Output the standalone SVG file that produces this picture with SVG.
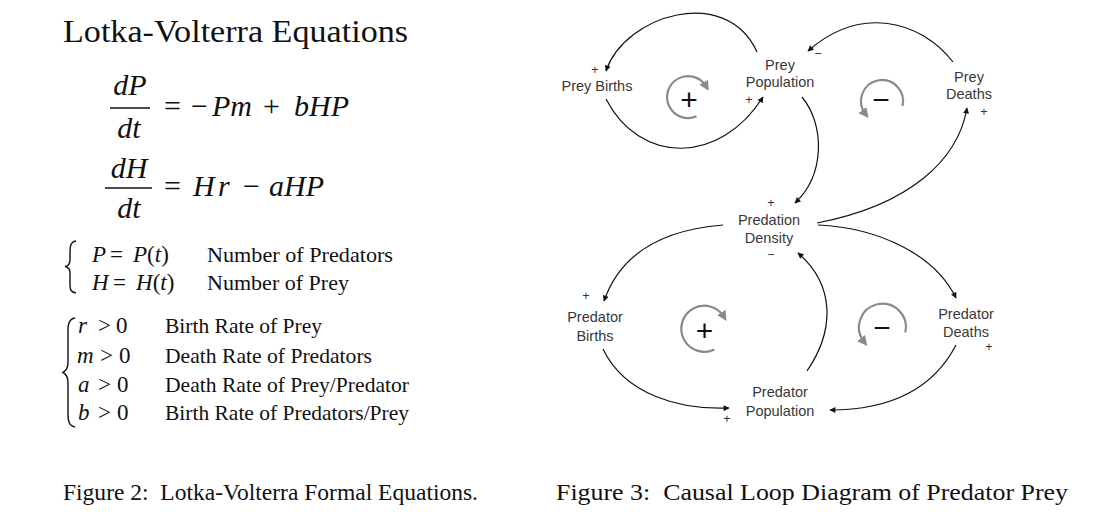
<svg xmlns="http://www.w3.org/2000/svg" width="1094" height="526" viewBox="0 0 1094 526">
<style>
.serif{font-family:"Liberation Serif","Times New Roman",serif;fill:#111}
.it{font-style:italic}
.node{font-family:"Liberation Sans",Arial,sans-serif;font-size:14.5px;fill:#383838;text-anchor:middle}
.sign{font-family:"Liberation Sans",Arial,sans-serif;font-size:12.5px;fill:#333;text-anchor:middle}
.loopsign{font-family:"Liberation Sans",Arial,sans-serif;font-size:30px;fill:#111;text-anchor:middle}
.link{fill:none;stroke:#111;stroke-width:1.2;marker-end:url(#ah)}
.loop{fill:none;stroke:#8a8a8a;stroke-width:2.2;marker-end:url(#gh)}
.brace{fill:none;stroke:#111;stroke-width:1.4}
</style>
<defs>
<marker id="ah" viewBox="0 0 10 10" refX="9" refY="5" markerWidth="8" markerHeight="6" markerUnits="userSpaceOnUse" orient="auto"><path d="M0,0 L10,5 L0,10 z" fill="#111"/></marker>
<marker id="gh" viewBox="0 0 10 10" refX="5" refY="5" markerWidth="10" markerHeight="10" markerUnits="userSpaceOnUse" orient="auto"><path d="M0,0 L10,5 L0,10 z" fill="#8a8a8a"/></marker>
</defs>
<rect width="1094" height="526" fill="#fff"/>

<g id="equations">
<text class="serif" x="63" y="42" font-size="32" textLength="345" lengthAdjust="spacingAndGlyphs">Lotka-Volterra Equations</text>
<g font-size="30">
<text class="serif it" x="130" y="95" text-anchor="middle">dP</text>
<line x1="110" y1="108" x2="150" y2="108" stroke="#111" stroke-width="1.6"/>
<text class="serif it" x="129" y="138" text-anchor="middle">dt</text>
<text class="serif" y="116"><tspan x="164">=</tspan><tspan x="191">−</tspan><tspan x="212" class="it">Pm</tspan><tspan x="263">+</tspan><tspan x="294" class="it">bHP</tspan></text>
<text class="serif it" x="129" y="178" text-anchor="middle">dH</text>
<line x1="105" y1="188" x2="152" y2="188" stroke="#111" stroke-width="1.6"/>
<text class="serif it" x="129" y="218" text-anchor="middle">dt</text>
<text class="serif" y="196"><tspan x="164">=</tspan><tspan x="193" class="it">H</tspan><tspan x="218" class="it">r</tspan><tspan x="243">−</tspan><tspan x="269" class="it">aHP</tspan></text>
</g>
<path class="brace" d="M76,241 C70,242 70,247 70,254 L70,260 C70,264 68,266 65,266.5 C68,267 70,269 70,273 L70,285 C70,290 71,292 76,293"/>
<g font-size="23">
<text class="serif" y="262"><tspan x="92" class="it">P</tspan><tspan x="110">=</tspan><tspan x="133" class="it">P</tspan><tspan>(</tspan><tspan class="it">t</tspan><tspan>)</tspan></text>
<text class="serif" y="290"><tspan x="92" class="it">H</tspan><tspan x="113">=</tspan><tspan x="136" class="it">H</tspan><tspan>(</tspan><tspan class="it">t</tspan><tspan>)</tspan></text>
</g>
<g font-size="22">
<text class="serif" x="207" y="262" textLength="186" lengthAdjust="spacingAndGlyphs">Number of Predators</text>
<text class="serif" x="207" y="290" textLength="142" lengthAdjust="spacingAndGlyphs">Number of Prey</text>
</g>
<path class="brace" d="M75,318 C69,319 68,324 68,331 L68,362 C68,368 66,371 63,372.5 C66,374 68,377 68,383 L68,414 C68,421 69,426 75,427"/>
<g font-size="23">
<text class="serif" y="333"><tspan x="78" class="it">r</tspan><tspan x="98">&gt;</tspan><tspan x="116">0</tspan></text>
<text class="serif" y="363"><tspan x="77" class="it">m</tspan><tspan x="100">&gt;</tspan><tspan x="119">0</tspan></text>
<text class="serif" y="392"><tspan x="78" class="it">a</tspan><tspan x="98">&gt;</tspan><tspan x="117">0</tspan></text>
<text class="serif" y="420"><tspan x="78" class="it">b</tspan><tspan x="98">&gt;</tspan><tspan x="117">0</tspan></text>
</g>
<g font-size="21.5">
<text class="serif" x="165" y="333" textLength="157" lengthAdjust="spacingAndGlyphs">Birth Rate of Prey</text>
<text class="serif" x="165" y="363" textLength="207" lengthAdjust="spacingAndGlyphs">Death Rate of Predators</text>
<text class="serif" x="165" y="392" textLength="244" lengthAdjust="spacingAndGlyphs">Death Rate of Prey/Predator</text>
<text class="serif" x="165" y="420" textLength="244" lengthAdjust="spacingAndGlyphs">Birth Rate of Predators/Prey</text>
</g>
</g>

<g id="connectors">
<path class="link" d="M757,52 C726,-16 625,15 606,71"/>
<path class="link" d="M606,99 C640,165 720,165 763,97"/>
<path class="link" d="M953,62 C920,20 860,5 808,51"/>
<path class="link" d="M802,97 C825,125 825,175 795,203"/>
<path class="link" d="M817,223 C910,205 958,160 967,108"/>
<path class="link" d="M723,225 C660,230 620,255 604,301"/>
<path class="link" d="M818,225 C880,228 935,255 956,298"/>
<path class="link" d="M807,371 C835,330 835,285 798,253"/>
<path class="link" d="M603,349 C625,395 680,410 729,408"/>
<path class="link" d="M956,345 C930,395 880,410 830,410"/>
</g>

<g id="loops">
<path class="loop" d="M696.6,116.3 A21,21 0 1 1 706.2,86.5"/>
<text class="loopsign" x="689" y="110">+</text>
<path class="loop" d="M902.4,106.1 A21,21 0 1 0 865.5,114"/>
<text class="loopsign" x="881" y="110">−</text>
<path class="loop" d="M714.4,349.4 A23,23 0 1 1 723.9,316.7"/>
<text class="loopsign" x="704.5" y="341">+</text>
<path class="loop" d="M905.3,332.6 A23.5,23.5 0 1 0 864.2,342"/>
<text class="loopsign" x="882" y="338">−</text>
</g>

<g id="prey-births"><text class="node" x="597" y="91">Prey Births</text><text class="sign" x="595" y="74">+</text></g>
<g id="prey-population"><text class="node" x="780" y="70">Prey</text><text class="node" x="780" y="87">Population</text><text class="sign" x="749" y="104">+</text><text class="sign" x="818" y="58">−</text></g>
<g id="prey-deaths"><text class="node" x="969" y="82">Prey</text><text class="node" x="969" y="99">Deaths</text><text class="sign" x="984" y="116">+</text></g>
<g id="predation-density"><text class="node" x="769" y="225">Predation</text><text class="node" x="769" y="243">Density</text><text class="sign" x="771" y="207">+</text><text class="sign" x="771" y="259">−</text></g>
<g id="predator-births"><text class="node" x="595" y="322">Predator</text><text class="node" x="595" y="341">Births</text><text class="sign" x="586" y="300">+</text></g>
<g id="predator-deaths"><text class="node" x="966" y="319">Predator</text><text class="node" x="966" y="337">Deaths</text><text class="sign" x="989" y="351">+</text></g>
<g id="predator-population"><text class="node" x="780" y="397">Predator</text><text class="node" x="780" y="416">Population</text><text class="sign" x="727" y="423">+</text></g>

<g id="captions">
<text class="serif" x="63" y="500" font-size="24" textLength="415" lengthAdjust="spacingAndGlyphs">Figure 2:&#160; Lotka-Volterra Formal Equations.</text>
<text class="serif" x="556" y="500" font-size="24" textLength="512" lengthAdjust="spacingAndGlyphs">Figure 3:&#160; Causal Loop Diagram of Predator Prey</text>
</g>
</svg>
